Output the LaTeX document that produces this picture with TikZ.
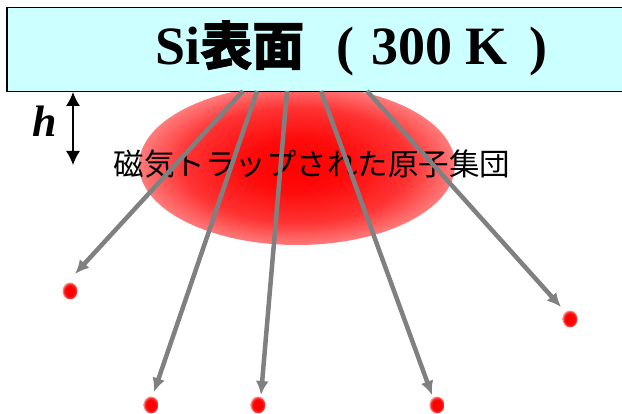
\documentclass[tikz,border=0pt]{standalone}
\usepackage{fontspec}
\setmainfont{Liberation Serif}
\newfontfamily\jpfont{Noto Sans CJK JP}
\newfontfamily\jpbold[FakeBold=1.2]{Noto Sans CJK JP}
\usetikzlibrary{shapes,arrows.meta}
\usetikzlibrary{positioning}
\definecolor{surfacecyan}{RGB}{204,255,255}
\definecolor{flowgray}{RGB}{128,128,128}
\pgfdeclareradialshading{trapglow}{\pgfpoint{0bp}{0bp}}{color(0bp)=(red); color(8bp)=(red!96!white); color(18bp)=(red!80!white); color(25bp)=(red!52!white); color(50bp)=(red!52!white)}
\pgfdeclareradialshading{atomglow}{\pgfpoint{0bp}{0bp}}{color(0bp)=(red); color(15bp)=(red); color(21bp)=(red!82!white); color(25bp)=(red!40!white); color(50bp)=(red!40!white)}
\tikzstyle{surface} = [rectangle, draw=black, fill=surfacecyan, line width=1.5pt]
\tikzstyle{trap} = [ellipse, shading=trapglow, minimum width=316pt, minimum height=160pt]
\tikzstyle{atom} = [ellipse, shading=atomglow, minimum width=15pt, minimum height=17pt, inner sep=0pt]
\tikzstyle{flow} = [draw, flowgray, line width=4.5pt, -{Latex[length=14pt,width=13pt]}]
\tikzstyle{gap} = [draw, black, line width=1.3pt, {Latex[length=14pt,width=14pt]}-{Latex[length=14pt,width=14pt]}]

\begin{document}
\begin{tikzpicture}[x=1pt, y=-1pt]
	\useasboundingbox (0,0) rectangle (622,414);
	\clip (0,0) rectangle (622,414);
	%% Trapped atoms
	\node [trap] (T) at (297,165) {};
	\node [font=\jpfont\fontsize{30.5}{30}\selectfont, inner sep=0pt] (TrapText) at (312,164) {磁気トラップされた原子集団};
	%% Surface
	\node [surface, anchor=north west, minimum width=640pt, minimum height=84pt] (S) at (6,7) {};
	\node [anchor=base west, inner sep=0pt, font=\bfseries\fontsize{54}{54}\selectfont] (Title) at (155,65)
		{Si{\jpbold\fontsize{52}{52}\selectfont 表面}\hspace{32pt}(\hspace{17pt}300 K\hspace{22pt})};
	%% Height
	\coordinate (h1) at (73,92);
	\coordinate (h2) at (73,165);
	\path [gap] (h1) -- (h2);
	\node [anchor=base, inner sep=0pt, font=\bfseries\itshape\fontsize{44}{44}\selectfont] (HText) at (45,137) {h};
	%% Flows
	\coordinate (s1) at (243,91);
	\coordinate (s2) at (257,91);
	\coordinate (s3) at (287,91);
	\coordinate (s4) at (321,91);
	\coordinate (s5) at (367,91);
	\coordinate (e1) at (75,274);
	\coordinate (e2) at (154,392);
	\coordinate (e3) at (261,395);
	\coordinate (e4) at (432,395);
	\coordinate (e5) at (561,307);
	\path [flow] (s1) -- (e1);
	\path [flow] (s2) -- (e2);
	\path [flow] (s3) -- (e3);
	\path [flow] (s4) -- (e4);
	\path [flow] (s5) -- (e5);
	%% Released atoms
	\node [atom] (A1) at (70,291) {};
	\node [atom] (A2) at (151,405) {};
	\node [atom] (A3) at (258,405) {};
	\node [atom] (A4) at (437,405) {};
	\node [atom] (A5) at (570,319) {};
\end{tikzpicture}
\end{document}
